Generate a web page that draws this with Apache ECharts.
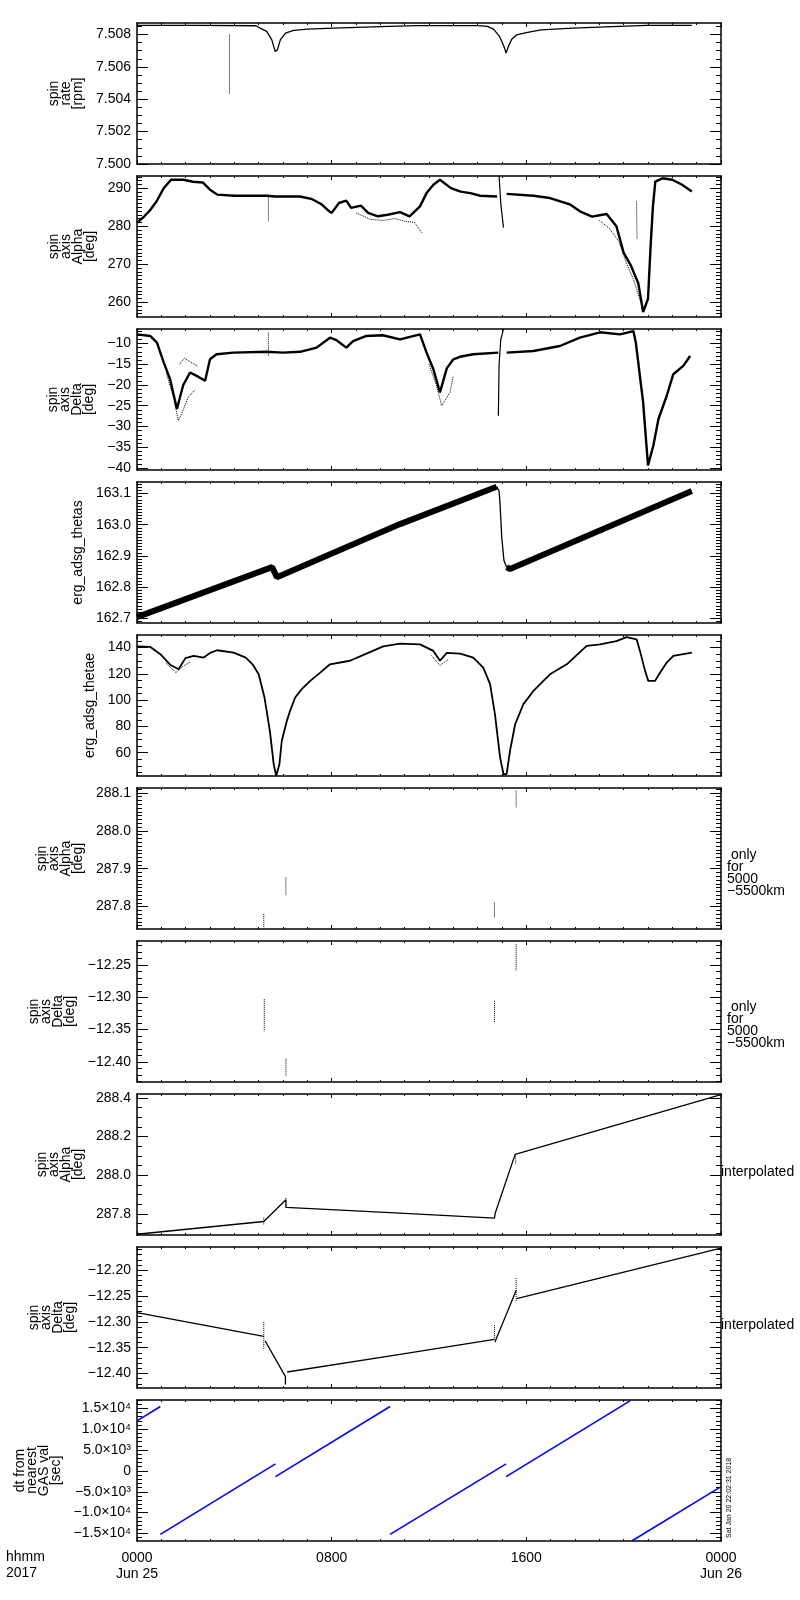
<!DOCTYPE html>
<html>
<head>
<meta charset="utf-8">
<script src="https://cdn.jsdelivr.net/npm/echarts@6/dist/echarts.min.js"></script>
<style>
  html, body { margin: 0; background: #fff; }
  #main { width: 800px; height: 1600px; }
</style>
</head>
<body>
<div id="main"></div>
<script>
// x axis: hours of 2017 Jun 25
const hourTicks = [0, 8, 16, 24]
const hourLabels = ['0000\nJun 25', '0800', '1600', '0000\nJun 26']

// panel titles (left) and y ranges
const panelNames = [
  'spin\nrate\n[rpm]',
  'spin\naxis\nAlpha\n[deg]',
  'spin\naxis\nDelta\n[deg]',
  'erg_adsg_thetas',
  'erg_adsg_thetae',
  'spin\naxis\nAlpha\n[deg]',
  'spin\naxis\nDelta\n[deg]',
  'spin\naxis\nAlpha\n[deg]',
  'spin\naxis\nDelta\n[deg]',
  'dt from\nnearest\nGAS val\n[sec]'
]
const yMins = [7.5, 256.1, -40.5, 162.685, 42.3, 287.741, -12.431, 287.69, -12.428, -16800]
const yMaxs = [7.50871, 293.2, -6.5, 163.137, 149.6, 288.113, -12.213, 288.421, -12.155, 17000]
const yMajor = [
  [7.500, 7.502, 7.504, 7.506, 7.508],
  [260, 270, 280, 290],
  [-40, -35, -30, -25, -20, -15, -10],
  [162.7, 162.8, 162.9, 163.0, 163.1],
  [60, 80, 100, 120, 140],
  [287.8, 287.9, 288.0, 288.1],
  [-12.40, -12.35, -12.30, -12.25],
  [287.8, 288.0, 288.2, 288.4],
  [-12.40, -12.35, -12.30, -12.25, -12.20],
  [-15000, -10000, -5000, 0, 5000, 10000, 15000]
]
const yMinorStep = [0.0005, 1, 1, 0.01, 5, 0.01, 0.01, 0.05, 0.01, 1000]
const yDecimals = [3, 0, 0, 1, 0, 1, 2, 1, 2, -1]
const nameGaps = [50, 38, 38, 48, 37, 50, 60, 50, 60, 75]

// panel 1: spin rate
const rateLine = [[0, 7.50856], [2.5, 7.50856], [4.9, 7.50854], [5.06, 7.50839], [5.33, 7.50819], [5.54, 7.50767],
  [5.68, 7.50695], [5.77, 7.50705], [5.89, 7.50767], [6.1, 7.50808], [6.44, 7.50825], [6.99, 7.50833], [8.08, 7.50839],
  [10.0, 7.50848], [11.5, 7.50855], [14.0, 7.50855], [14.4, 7.5085], [14.65, 7.50833], [14.9, 7.50788], [15.08, 7.50726],
  [15.17, 7.50685], [15.26, 7.50726], [15.4, 7.50771], [15.6, 7.50798], [16.0, 7.50812], [16.6, 7.50829], [17.9, 7.50839],
  [19.0, 7.50845], [20.95, 7.50856], [22.8, 7.50856]]
const rateSpike = [[3.8, 7.5080], [3.8, 7.5043]]

// panel 2: spin axis alpha
const alphaA = [[0, 280.9], [0.3, 282.6], [0.55, 284.3], [0.8, 286.5], [1.1, 290], [1.4, 292.2], [1.9, 292.2], [2.3, 291.7],
  [2.7, 291.5], [3.0, 289.6], [3.3, 288.3], [4.0, 288.0], [5.3, 288.0], [5.7, 287.8], [6.7, 287.8], [7.2, 287.1], [7.6, 285.7],
  [7.9, 283.9], [8.0, 283.5], [8.3, 286.1], [8.6, 286.7], [8.8, 284.8], [9.2, 285.4], [9.5, 283.5], [9.9, 282.6], [10.3, 283.0],
  [10.81, 283.7], [11.2, 282.6], [11.63, 285.2], [11.9, 288.7], [12.18, 290.9], [12.45, 292.2], [12.9, 290.0], [13.3, 289.1],
  [13.7, 288.7], [14.1, 288.0], [14.8, 287.8]]
const alphaB = [[15.19, 288.5], [16.29, 288.0], [16.97, 287.4], [17.4, 286.5], [17.8, 285.7], [18.2, 283.9], [18.7, 282.5],
  [19.3, 283.2], [19.7, 280.0], [20.0, 273.0], [20.3, 269.6], [20.6, 265.0], [20.8, 257.4], [21.0, 260.9], [21.1, 273.9],
  [21.2, 285.0], [21.3, 291.7], [21.6, 292.6], [22.0, 292.2], [22.4, 290.9], [22.8, 289.1]]
const alphaSpike = [[14.88, 293.2], [14.95, 286], [15.06, 279.6]]
const alphaDots = [[5.4, 288.3], [5.4, 281.3]]
const alphaDots2 = [[20.53, 286.5], [20.55, 276.5]]
const alphaScatter = [[9.0, 283.5], [9.6, 281.8], [10.1, 281.5], [10.6, 282.0], [11.0, 281.3], [11.4, 281.0], [11.7, 278.3]]
const alphaScatter2 = [[19.0, 281.5], [19.4, 279.5], [19.8, 276.0], [20.1, 270.5], [20.4, 266.0], [20.7, 260.0]]

// panel 3: spin axis delta
const deltaA = [[0, -7.8], [0.55, -8.2], [0.82, -9.8], [1.1, -14.6], [1.36, -18.6], [1.64, -25.8], [1.9, -20], [2.18, -17],
  [2.45, -17.8], [2.8, -19], [3.0, -13.8], [3.27, -12.6], [3.96, -12.2], [5.33, -12.0], [6.0, -12.2], [6.7, -12.0],
  [7.38, -11.0], [7.93, -8.6], [8.2, -9.2], [8.6, -11.0], [8.88, -9.4], [9.4, -8.2], [10.1, -8.0], [10.81, -9.0],
  [11.63, -7.8], [11.9, -12.2], [12.18, -16.2], [12.45, -21.8], [12.73, -16], [13.0, -13.8], [13.27, -13.2],
  [13.82, -12.6], [14.85, -12.2]]
const deltaB = [[15.19, -12.2], [16.29, -11.8], [17.38, -10.6], [18.2, -8.6], [19.03, -7.3], [19.85, -7.8], [20.4, -7.0],
  [20.5, -9.8], [20.8, -24.2], [21.0, -39.4], [21.22, -34.6], [21.43, -28.2], [21.77, -22.6], [22.04, -17.4],
  [22.45, -15.4], [22.73, -13.0]]
const deltaSpike = [[14.85, -27.4], [14.88, -15], [14.95, -9], [15.06, -6.6]]
const deltaDots = [[5.4, -7.4], [5.4, -13]]
const deltaLow1 = [[1.2, -17], [1.5, -23], [1.7, -28.6], [1.9, -26], [2.1, -23], [2.4, -21]]
const deltaHigh1 = [[1.75, -15], [1.95, -13.5], [2.2, -14.5], [2.5, -15.5]]
const deltaLow2 = [[12.0, -15], [12.3, -20], [12.52, -25], [12.86, -21.8], [13.0, -17.8]]

// panel 4: erg_adsg_thetas
const thetasA = [[0, 162.704], [5.55, 162.864], [5.75, 162.832], [10.81, 163.002], [14.78, 163.122]]
const thetasDrop = [[14.78, 163.122], [14.88, 163.108], [14.92, 163.066], [14.99, 162.96], [15.08, 162.885], [15.19, 162.864]]
const thetasB = [[15.19, 162.864], [15.33, 162.858], [22.8, 163.108]]

// panel 5: erg_adsg_thetae
const thetae = [[0, 141], [0.55, 140.5], [0.96, 135], [1.36, 127], [1.71, 123.5], [1.99, 132], [2.33, 133.7], [2.74, 132.4],
  [3.01, 136], [3.29, 138], [3.97, 136.2], [4.47, 132.4], [4.75, 127.3], [5.0, 119.7], [5.24, 102], [5.46, 76.7], [5.62, 51],
  [5.72, 42.5], [5.85, 51], [5.95, 69.1], [6.16, 84.3], [6.29, 91.9], [6.5, 102], [6.77, 108.4], [7.12, 114.7], [7.53, 121],
  [7.93, 127.3], [8.75, 130], [9.43, 135.4], [10.12, 141], [10.81, 143], [11.63, 142.5], [12.18, 137.5], [12.45, 130],
  [12.73, 136], [13.28, 135.4], [13.82, 132.4], [14.23, 124.8], [14.51, 112.2], [14.71, 89.4], [14.92, 56.5], [15.06, 43.8],
  [15.12, 42.5], [15.19, 43.8], [15.33, 61.5], [15.54, 81.7], [15.88, 97], [16.29, 107], [16.97, 119.7], [17.66, 127.3],
  [18.48, 141.3], [19.03, 142.5], [19.7, 145], [20.12, 148], [20.53, 146.3], [20.67, 137.5], [20.88, 122.3], [21.01, 114.7],
  [21.29, 114.7], [21.5, 121], [21.77, 128.6], [22.04, 133.7], [22.8, 136.2]]
const thetaeScatter = [[1.2, 128], [1.6, 121], [1.9, 126], [2.2, 129]]
const thetaeScatter2 = [[12.1, 134], [12.45, 126.5], [12.8, 131]]

// panels 6 and 7: only for 5000-5500 km
const alphaOnly = [
  [[5.21, 287.781], [5.21, 287.746]],
  [[6.12, 287.877], [6.12, 287.829]],
  [[14.69, 287.811], [14.69, 287.772]],
  [[15.58, 288.106], [15.58, 288.062]]
]
const deltaOnly = [
  [[5.23, -12.303], [5.23, -12.353]],
  [[6.12, -12.395], [6.12, -12.422]],
  [[14.69, -12.306], [14.69, -12.339]],
  [[15.58, -12.218], [15.58, -12.259]]
]

// panel 8: interpolated alpha
const alphaInterp = [[0, 287.694], [5.21, 287.760], [6.12, 287.873], [6.12, 287.833], [10.81, 287.803], [14.69, 287.777],
  [14.72, 287.803], [15.54, 288.108], [24, 288.418]]
const alphaInterpTicks = [
  [[5.21, 287.781], [5.21, 287.743]],
  [[6.12, 287.882], [6.12, 287.872]],
  [[15.56, 288.108], [15.56, 288.056]]
]

// panel 9: interpolated delta
const deltaInterp = [
  [[0, -12.282], [5.21, -12.328]],
  [[5.27, -12.337], [6.1, -12.406], [6.1, -12.421]],
  [[6.17, -12.397], [10.81, -12.363], [14.69, -12.334]],
  [[14.71, -12.339], [15.58, -12.239]],
  [[15.6, -12.255], [24, -12.157]]
]
const deltaInterpTicks = [
  [[5.21, -12.30], [5.21, -12.352]],
  [[14.69, -12.306], [14.69, -12.334]],
  [[15.58, -12.215], [15.58, -12.262]]
]

// panel 10: dt from nearest GAS val
const dtSegs = [
  [[0, 12000], [0.96, 15440]],
  [[0.96, -15200], [5.69, 1680]],
  [[5.69, -1360], [10.4, 15440]],
  [[10.4, -15200], [15.17, 1680]],
  [[15.17, -1360], [20.26, 16800]],
  [[20.35, -16752], [24, -3760]]
]

const FONT = 'Liberation Sans, Arial, sans-serif'
const myChart = echarts.init(document.getElementById('main'), null, {renderer: 'canvas'})

function fmtY (i, v) {
  const d = yDecimals[i]
  if (d < 0) {
    if (v === 0) return '0'
    const a = Math.abs(v)
    const e = a >= 10000 ? 4 : 3
    return (v < 0 ? '\u2212' : '') + (a / Math.pow(10, e)).toFixed(1) + '\u00d710' + (e === 4 ? '\u2074' : '\u00b3')
  }
  return v.toFixed(d).replace('-', '\u2212')
}

function minorValues (i) {
  const s = yMinorStep[i]
  const out = []
  for (let k = Math.ceil(yMins[i] / s - 1e-6); k * s <= yMaxs[i] + 1e-9; k++) {
    out.push(Number((k * s).toFixed(6)))
  }
  return out
}

const grids = []
const xAxes = []
const yAxes = []
const series = []

for (let i = 0; i < 10; i++) {
  grids.push({left: 137, right: 79, top: 23 + 153 * i, height: 141})
  const xBase = {
    gridIndex: i, type: 'value', min: 0, max: 24, interval: 8,
    axisLine: {onZero: false, lineStyle: {color: '#000', width: 1.5}},
    axisTick: {inside: true, length: 4, lineStyle: {color: '#000'}},
    minorTick: {show: true, splitNumber: 8, length: 2, lineStyle: {color: '#000'}},
    splitLine: {show: false}
  }
  xAxes.push(Object.assign({}, xBase, {
    position: 'bottom',
    axisLabel: {
      show: i === 9, margin: 9, color: '#000', fontFamily: FONT, fontSize: 14, lineHeight: 16,
      formatter: function (v) { return hourLabels[hourTicks.indexOf(v)] }
    }
  }))
  xAxes.push(Object.assign({}, xBase, {position: 'top', axisLabel: {show: false}}))

  const yBase = {
    gridIndex: i, type: 'value', min: yMins[i], max: yMaxs[i],
    splitLine: {show: false}
  }
  const mins = minorValues(i)
  // left: labels + major ticks
  yAxes.push(Object.assign({}, yBase, {
    position: 'left',
    name: panelNames[i], nameLocation: 'middle', nameRotate: 90, nameGap: nameGaps[i],
    nameTextStyle: {color: '#000', fontFamily: FONT, fontSize: 14, lineHeight: 12},
    axisLine: {show: true, onZero: false, lineStyle: {color: '#000', width: 1.5}},
    axisTick: {show: true, inside: true, length: 11, customValues: yMajor[i], lineStyle: {color: '#000'}},
    axisLabel: {
      show: true, margin: 6, color: '#000', fontFamily: FONT, fontSize: 14, customValues: yMajor[i],
      formatter: (function (idx) { return function (v) { return fmtY(idx, v) } })(i)
    }
  }))
  // left minor ticks
  yAxes.push(Object.assign({}, yBase, {
    position: 'left',
    axisLine: {show: false, onZero: false},
    axisTick: {show: true, inside: true, length: 5, customValues: mins, lineStyle: {color: '#000'}},
    axisLabel: {show: false}
  }))
  // right major and minor ticks
  yAxes.push(Object.assign({}, yBase, {
    position: 'right',
    axisLine: {show: true, onZero: false, lineStyle: {color: '#000', width: 1.5}},
    axisTick: {show: true, inside: true, length: 11, customValues: yMajor[i], lineStyle: {color: '#000'}},
    axisLabel: {show: false}
  }))
  yAxes.push(Object.assign({}, yBase, {
    position: 'right',
    axisLine: {show: false, onZero: false},
    axisTick: {show: true, inside: true, length: 5, customValues: mins, lineStyle: {color: '#000'}},
    axisLabel: {show: false}
  }))
}

function addLine (panel, pts, width, type, color) {
  series.push({
    type: 'line', xAxisIndex: panel * 2, yAxisIndex: panel * 4, data: pts,
    showSymbol: false, symbol: 'none', silent: true, clip: true,
    lineStyle: {color: color || '#000', width: width, type: type || 'solid'}
  })
}

addLine(0, rateLine, 1.3)
addLine(0, rateSpike, 1, 'dotted')

addLine(1, alphaA, 2.4)
addLine(1, alphaB, 2.4)
addLine(1, alphaSpike, 1.2)
addLine(1, alphaDots, 1, 'dotted')
addLine(1, alphaDots2, 1, 'dotted')
addLine(1, alphaScatter, 1, 'dotted')
addLine(1, alphaScatter2, 1, 'dotted')

addLine(2, deltaA, 2.4)
addLine(2, deltaB, 2.4)
addLine(2, deltaSpike, 1.2)
addLine(2, deltaDots, 1, 'dotted')
addLine(2, deltaLow1, 1, 'dotted')
addLine(2, deltaHigh1, 1, 'dotted')
addLine(2, deltaLow2, 1, 'dotted')

addLine(3, thetasA, 6)
addLine(3, thetasDrop, 1.3)
addLine(3, thetasB, 6)

addLine(4, thetae, 1.8)
addLine(4, thetaeScatter, 1, 'dotted')
addLine(4, thetaeScatter2, 1, 'dotted')

alphaOnly.forEach(function (s) { addLine(5, s, 1, 'dotted') })
deltaOnly.forEach(function (s) { addLine(6, s, 1, 'dotted') })

addLine(7, alphaInterp, 1.3)
alphaInterpTicks.forEach(function (s) { addLine(7, s, 1, 'dotted') })

deltaInterp.forEach(function (s) { addLine(8, s, 1.3) })
deltaInterpTicks.forEach(function (s) { addLine(8, s, 1, 'dotted') })

dtSegs.forEach(function (s) { addLine(9, s, 1.6, 'solid', '#0000ff') })

const txt = {fill: '#000', font: '14px ' + FONT, lineHeight: 12}
myChart.setOption({
  animation: false,
  backgroundColor: '#fff',
  grid: grids,
  xAxis: xAxes,
  yAxis: yAxes,
  series: series,
  graphic: [
    {type: 'text', left: 727, top: 848, style: Object.assign({text: ' only\nfor\n5000\n\u22125500km'}, txt)},
    {type: 'text', left: 727, top: 1000, style: Object.assign({text: ' only\nfor\n5000\n\u22125500km'}, txt)},
    {type: 'text', left: 721, top: 1165, style: Object.assign({text: 'interpolated'}, txt)},
    {type: 'text', left: 721, top: 1318, style: Object.assign({text: 'interpolated'}, txt)},
    {type: 'text', left: 6, top: 1549, style: {text: 'hhmm\n2017', fill: '#000', font: '14px ' + FONT, lineHeight: 16}},
    {type: 'text', x: 729, y: 1538, rotation: Math.PI / 2,
      style: {text: 'Sat Jan 20 22:02:31 2018', fill: '#000', font: '7px ' + FONT, textAlign: 'left', textVerticalAlign: 'middle'}}
  ]
})
</script>
</body>
</html>
